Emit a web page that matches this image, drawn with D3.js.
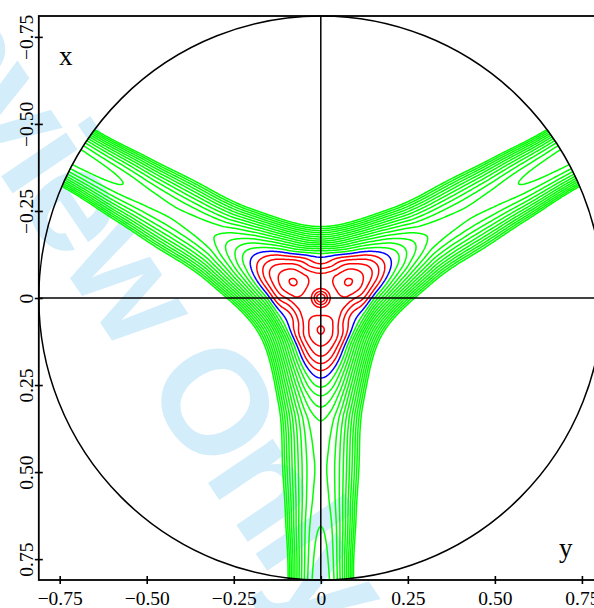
<!DOCTYPE html>
<html><head><meta charset="utf-8">
<script src="https://cdn.jsdelivr.net/npm/d3@7"></script>
<style>html,body{margin:0;padding:0;background:#fff;} svg{display:block}</style>
</head><body><svg id="c" width="594" height="608"></svg>
<script>
// ---- data ----
// contour level crossings along a channel axis (radius -> level index)
const armRadius = [0, 0.012, 0.019, 0.027, 0.05, 0.08, 0.092, 0.104, 0.138, 0.167, 0.188, 0.208, 0.23, 0.256, 0.281, 0.313, 0.353, 0.43, 0.49, 0.57, 0.656, 0.75, 0.85, 1.2];
const armLevel  = [-0.15, -1, -2, -3, -4, -5, -5.1, -5, -4, -3, -2, -1, 0, 1, 2, 3, 4, 4.6, 4.77, 4.55, 4, 3.5, 3.1, 2.5];
// contour level crossings midway between two channels
const gapRadius = [0, 0.012, 0.019, 0.027, 0.047, 0.0706, 0.085, 0.0985, 0.117, 0.128, 0.1665, 0.205, 0.25, 0.3, 0.4, 0.5, 0.65, 0.78, 0.9, 1.2];
const gapLevel  = [-0.15, -1, -2, -3, -3.5, -3, -2, -1, 0, 1, 7.5, 14, 22.5, 33, 60, 92, 190, 330, 450, 700];
const armAngleDeg = 90;            // direction of the lower channel (others at +-120 deg)
const redLevels   = [-5, -4, -3, -2, -1];
const blueLevels  = [0];
const greenLevels = [1, 2, 3, 4, 5, 6, 7, 8, 9, 10, 11, 12, 13, 14];
const xTicks = [-0.75, -0.5, -0.25, 0, 0.25, 0.5, 0.75];
const yTicks = [-0.75, -0.5, -0.25, 0, 0.25, 0.5, 0.75];
const diskRadius = 0.81;

// ---- helpers ----
function monotone(xs, ys) {
  const n = xs.length, d = [], m = new Array(n);
  for (let i = 0; i < n - 1; i++) d.push((ys[i + 1] - ys[i]) / (xs[i + 1] - xs[i]));
  m[0] = d[0]; m[n - 1] = d[n - 2];
  for (let i = 1; i < n - 1; i++) {
    if (d[i - 1] * d[i] <= 0) m[i] = 0;
    else {
      const h0 = xs[i] - xs[i - 1], h1 = xs[i + 1] - xs[i];
      const w1 = 2 * h1 + h0, w2 = h1 + 2 * h0;
      m[i] = (w1 + w2) / (w1 / d[i - 1] + w2 / d[i]);
    }
  }
  return function (x) {
    if (x <= xs[0]) return ys[0];
    if (x >= xs[n - 1]) return ys[n - 1] + m[n - 1] * (x - xs[n - 1]);
    const i = d3.bisectRight(xs, x) - 1;
    const h = xs[i + 1] - xs[i], t = (x - xs[i]) / h, t2 = t * t, t3 = t2 * t;
    return (2 * t3 - 3 * t2 + 1) * ys[i] + (t3 - 2 * t2 + t) * h * m[i] +
           (-2 * t3 + 3 * t2) * ys[i + 1] + (t3 - t2) * h * m[i + 1];
  };
}

const svg = d3.select('#c');
const xScale = d3.scaleLinear().domain([-diskRadius, diskRadius]).range([38.8, 602.8]);
const yScale = d3.scaleLinear().domain([-diskRadius, diskRadius]).range([16, 580]);

// watermark
svg.append('text')
  .attr('transform', 'translate(113,250) rotate(56)')
  .attr('text-anchor', 'middle').attr('dominant-baseline', 'central')
  .style('font', 'bold 148px "Liberation Sans", Arial, sans-serif')
  .style('letter-spacing', '-5px')
  .attr('fill', '#d3edfb')
  .text('Preview Only');

// ---- field on a grid ----
const fArm = monotone(armRadius, armLevel), fGap = monotone(gapRadius, gapLevel);
const n = 480, g0 = -0.83, dg = 1.66 / n;
const a0 = armAngleDeg * Math.PI / 180;
const values = new Float64Array(n * n);
for (let j = 0; j < n; j++) {
  const v = g0 + (j + 0.5) * dg;
  for (let i = 0; i < n; i++) {
    const u = g0 + (i + 0.5) * dg;
    const r = Math.hypot(u, v), th = Math.atan2(v, u);
    const w = (1 + Math.cos(3 * (th - a0))) / 2;
    values[j * n + i] = w * fArm(r) + (1 - w) * fGap(r);
  }
}
const levels = [...redLevels, ...blueLevels, ...greenLevels];
const colorOf = lv => redLevels.includes(lv) ? '#ff0000' : blueLevels.includes(lv) ? '#0000ff' : '#00ff00';
const contours = d3.contours().size([n, n]).thresholds(levels)(values);
const proj = d3.geoTransform({ point(x, y) { this.stream.point(xScale(g0 + x * dg), yScale(g0 + y * dg)); } });
const path = d3.geoPath(proj);

const cx = xScale(0), cy = yScale(0), R = xScale(diskRadius) - xScale(0);
svg.append('clipPath').attr('id', 'disk').append('circle').attr('cx', cx).attr('cy', cy).attr('r', R);
svg.append('g').attr('clip-path', 'url(#disk)')
  .selectAll('path').data(contours).join('path')
  .attr('d', path).attr('fill', 'none')
  .attr('stroke', d => colorOf(d.value)).attr('stroke-width', 1.5);

// disk and axes lines
svg.append('circle').attr('cx', cx).attr('cy', cy).attr('r', R)
  .attr('fill', 'none').attr('stroke', '#000').attr('stroke-width', 1.5);
svg.append('line').attr('x1', xScale(-diskRadius)).attr('x2', xScale(diskRadius))
  .attr('y1', cy).attr('y2', cy).attr('stroke', '#000').attr('stroke-width', 1.5);
svg.append('line').attr('x1', cx).attr('x2', cx)
  .attr('y1', yScale(-diskRadius)).attr('y2', yScale(diskRadius)).attr('stroke', '#000').attr('stroke-width', 1.5);

// frame
svg.append('rect').attr('x', xScale(-diskRadius)).attr('y', yScale(-diskRadius))
  .attr('width', xScale(diskRadius) - xScale(-diskRadius)).attr('height', yScale(diskRadius) - yScale(-diskRadius))
  .attr('fill', 'none').attr('stroke', '#000').attr('stroke-width', 1.8);

const fmt = v => v === 0 ? '0' : d3.format('.2f')(v);
const tickFont = '19.5px "Liberation Serif", "Times New Roman", serif';
const gx = svg.append('g').attr('transform', `translate(0,${yScale(diskRadius)})`)
  .call(d3.axisBottom(xScale).tickValues(xTicks).tickFormat(fmt).tickSizeOuter(0));
gx.select('.domain').remove();
gx.selectAll('.tick line').attr('y1', -4).attr('y2', 4).attr('stroke', '#000').attr('stroke-width', 1.6);
gx.selectAll('.tick text').attr('y', 25).attr('dy', null).attr('fill', '#000').style('font', tickFont);

const gy = svg.append('g').attr('transform', `translate(${xScale(-diskRadius)},0)`)
  .call(d3.axisLeft(yScale).tickValues(yTicks).tickFormat(fmt).tickSizeOuter(0));
gy.select('.domain').remove();
gy.selectAll('.tick line').attr('x1', -4).attr('x2', 4).attr('stroke', '#000').attr('stroke-width', 1.6);
gy.selectAll('.tick text').attr('x', null).attr('dy', null).attr('text-anchor', 'middle')
  .attr('transform', 'translate(-6,0) rotate(-90)').attr('fill', '#000').style('font', tickFont);

// axis letters
svg.append('text').attr('x', 59).attr('y', 65).text('x')
  .style('font', '27px "Liberation Serif", "Times New Roman", serif');
svg.append('text').attr('x', 559).attr('y', 557).text('y')
  .style('font', '27px "Liberation Serif", "Times New Roman", serif');
</script></body></html>
